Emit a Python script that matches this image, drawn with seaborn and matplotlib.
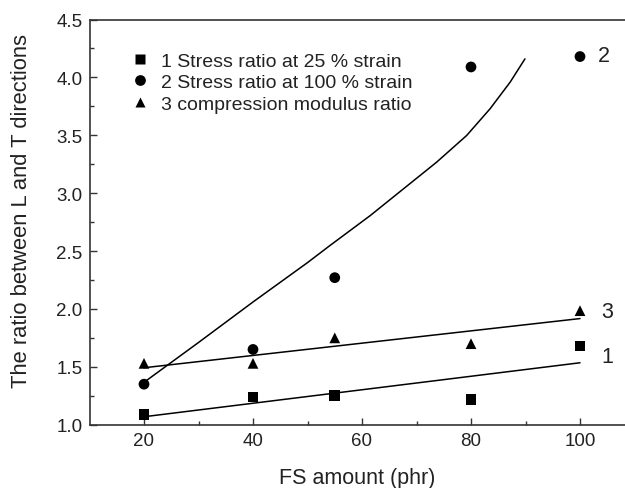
import numpy as np
import pandas as pd
import matplotlib
matplotlib.use("Agg")
import matplotlib.pyplot as plt
import seaborn as sns

# ---- data ----
fs_amount = [20, 40, 55, 80, 100]
stress_25 = [1.09, 1.24, 1.25, 1.22, 1.68]
stress_100 = [1.35, 1.65, 2.27, 4.09, 4.18]
comp_mod = [1.53, 1.53, 1.75, 1.70, 1.985]

# hand-drawn trend curve for series 2
trend2_x = [20, 30, 40, 50, 54.1, 61.5, 67.6, 73.7, 79.2, 83.5, 87.2, 89.9]
trend2_y = [1.366, 1.71, 2.06, 2.40, 2.547, 2.806, 3.037, 3.268, 3.498,
            3.729, 3.96, 4.16]

labels = ["1 Stress ratio at 25 % strain",
          "2 Stress ratio at 100 % strain",
          "3 compression modulus ratio"]

sns.set_style("ticks")
plt.rcParams["font.family"] = ["Liberation Sans", "DejaVu Sans"]

fig = plt.figure(figsize=(6.25, 4.89), dpi=100)
ax = fig.add_axes([89.5 / 625, 1 - 425.7 / 489, (625 - 89.5) / 625, (425.7 - 20.5) / 489])

df = pd.DataFrame({
    "x": fs_amount * 3,
    "y": stress_25 + stress_100 + comp_mod,
    "series": [labels[0]] * 5 + [labels[1]] * 5 + [labels[2]] * 5,
})

sns.scatterplot(data=df, x="x", y="y", style="series", hue="series",
                palette=["black"] * 3, markers=["s", "o", "^"],
                s=60, edgecolor="none", ax=ax, legend=True)

# linear fits for series 1 and 3
xfit = np.array([20, 100])
for ys in (stress_25, comp_mod):
    p = np.polyfit(fs_amount, ys, 1)
    sns.lineplot(x=xfit, y=np.polyval(p, xfit), color="black", lw=1.1, ax=ax)

sns.lineplot(x=trend2_x, y=trend2_y, color="black", lw=1.1, ax=ax, sort=False)

ax.set_xlim(10, 10 + (625 - 89.5) / 5.45)
ax.set_ylim(1.0, 4.5)
ax.set_xticks([20, 40, 60, 80, 100])
ax.set_xticks([30, 50, 70, 90], minor=True)
ax.set_yticks(np.arange(1.0, 4.51, 0.5))
ax.set_yticks(np.arange(1.25, 4.5, 0.5), minor=True)
ax.set_yticklabels([f"{v:.1f}" for v in np.arange(1.0, 4.51, 0.5)])
ax.tick_params(axis="both", which="major", direction="in", length=5, width=1,
               labelsize=13.5, color="#333333", labelcolor="#222222")
ax.tick_params(axis="both", which="minor", direction="in", length=3, width=1,
               color="#333333")
ax.tick_params(axis="x", pad=5)
ax.tick_params(axis="y", pad=5)
ax.spines["right"].set_visible(False)
for s in ("top", "left", "bottom"):
    ax.spines[s].set_linewidth(1.2)
    ax.spines[s].set_color("#333333")

ax.set_xlabel("FS amount (phr)", fontsize=15.5, labelpad=13, color="#222222")
ax.set_ylabel("The ratio between L and T directions", fontsize=15.8,
              color="#222222")
ax.yaxis.set_label_coords(-0.108, 0.53)

leg = ax.legend(loc="upper left", bbox_to_anchor=(0.076, 0.92), frameon=False,
                fontsize=14, handlelength=1.0, handletextpad=0.58,
                labelspacing=0.21, borderaxespad=0, borderpad=0,
                markerscale=1.0)
for t in leg.get_texts():
    t.set_color("#222222")

for txt, xv, yv, dx in (("2", 100, 4.187, 12.7), ("3", 100, 1.977, 15.6),
                        ("1", 100, 1.585, 15.5)):
    ax.annotate(txt, xy=(xv, yv), xytext=(dx, 0), textcoords="offset points",
                fontsize=15.5, va="center", ha="left", color="#222222")

fig.savefig("out.png", dpi=100)
